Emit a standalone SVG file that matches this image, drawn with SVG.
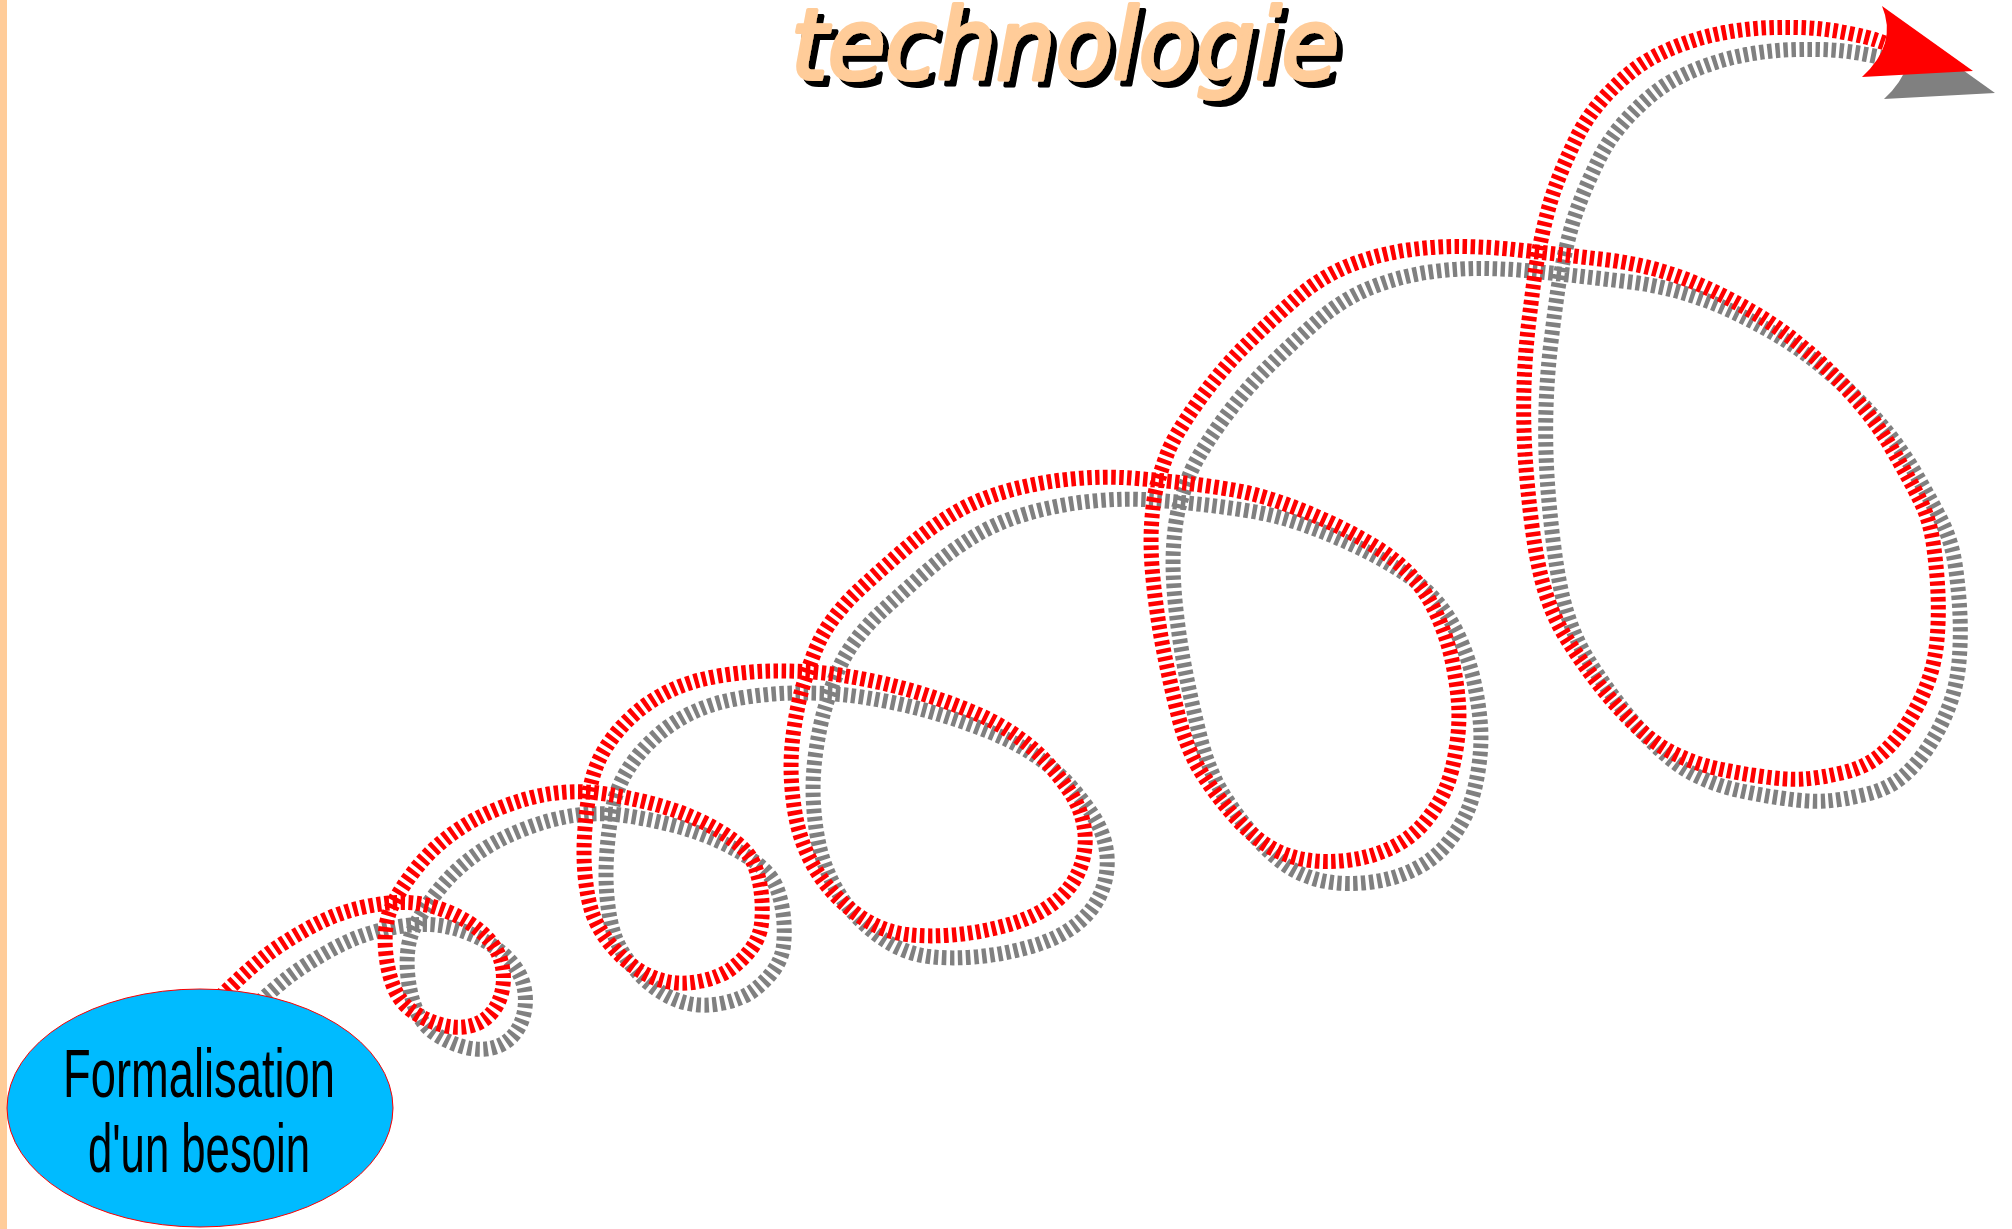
<svg xmlns="http://www.w3.org/2000/svg" width="2012" height="1229" viewBox="0 0 2012 1229">
<defs>
<style>
.trail{fill:none;stroke-width:15;stroke-dasharray:4.5 3.5;stroke-linejoin:round}
.red{stroke:#FF0000}
.grey{stroke:#808080}
.title{font-family:"DejaVu Sans",sans-serif;font-size:98px;font-style:italic;stroke-linejoin:round;stroke-width:4;fill:#FFCC99;stroke:#FFCC99}
.label{font-family:"Liberation Sans",Arial,sans-serif;font-size:68px;fill:#000000}
</style>
<filter id="shadow" x="-5%" y="-30%" width="115%" height="170%">
<feOffset in="SourceAlpha" dx="6" dy="6" result="off"/>
<feMerge><feMergeNode in="off"/><feMergeNode in="SourceGraphic"/></feMerge>
</filter>
<path id="spiral" d="M215,1002 L232.5,985 Q250,968 266,955.5 Q282,943 308,928.5 Q334,914 359.5,908 Q385,902 406,902.5 Q427,903 448.5,912 Q470,921 483.5,934 Q497,947 501,961 Q505,975 502.5,989 Q500,1003 491.5,1013 Q483,1023 470,1026 Q457,1029 442,1025 Q427,1021 413.5,1012 Q400,1003 393.5,986.5 Q387,970 385.5,950 Q384,930 388.5,915 Q393,900 410,876.5 Q427,853 448.5,836.5 Q470,820 498.5,808.5 Q527,797 552,793.5 Q577,790 602,793.5 Q627,797 652,803.5 Q677,810 698.5,820 Q720,830 735,841.5 Q750,853 755,866.5 Q760,880 761.5,895 Q763,910 761.5,923.5 Q760,937 751.5,948.5 Q743,960 731.5,968.5 Q720,977 701.5,981 Q683,985 666.5,981.5 Q650,978 635,967.5 Q620,957 608.5,942 Q597,927 592,912 Q587,897 585,875 Q583,853 585,828 Q587,803 591,784 Q595,765 605.5,748 Q616,731 633,715.5 Q650,700 671.5,690 Q693,680 721.5,675.5 Q750,671 777.5,671 Q805,671 824,673 Q843,675 868,680 Q893,685 918,692.5 Q943,700 968,710 Q993,720 1013,733.5 Q1033,747 1046.5,762 Q1060,777 1070,792 Q1080,807 1083.5,823.5 Q1087,840 1083.5,856.5 Q1080,873 1070,886.5 Q1060,900 1043.5,910 Q1027,920 1002,926.5 Q977,933 952,935 Q927,937 907,934.5 Q887,932 870,922.5 Q853,913 838,898 Q823,883 813,865 Q803,847 798,827 Q793,807 791.5,782 Q790,757 793.5,732 Q797,707 802,689.5 Q807,672 814,653.5 Q821,635 833,619 Q845,603 859,590 Q873,577 898.5,554.5 Q924,532 949.5,516 Q975,500 1007,491 Q1039,482 1071.5,479 Q1104,476 1130.5,478 Q1157,480 1180,482.5 Q1203,485 1228,489 Q1253,493 1278,501.5 Q1303,510 1328,521.5 Q1353,533 1375,546.5 Q1397,560 1412,576.5 Q1427,593 1437,615 Q1447,637 1452,660 Q1457,683 1458.5,703 Q1460,723 1456.5,746.5 Q1453,770 1446.5,786.5 Q1440,803 1426.5,820 Q1413,837 1393,847 Q1373,857 1350,860 Q1327,863 1307,860 Q1287,857 1270,847 Q1253,837 1235,817 Q1217,797 1202,773.5 Q1187,750 1178.5,716.5 Q1170,683 1163.5,650 Q1157,617 1153.5,583.5 Q1150,550 1151.5,525 Q1153,500 1157,485 Q1161,470 1167.5,453 Q1174,436 1196.5,404 Q1219,372 1244.5,346.5 Q1270,321 1296,298.5 Q1322,276 1350.5,265 Q1379,254 1408,250 Q1437,246 1463.5,246.5 Q1490,247 1514,249.5 Q1538,252 1560.5,254.5 Q1583,257 1608,260 Q1633,263 1658,270 Q1683,277 1708,288.5 Q1733,300 1758,315 Q1783,330 1808,351.5 Q1833,373 1855,398 Q1877,423 1893.5,451.5 Q1910,480 1920,500 Q1930,520 1933.5,545 Q1937,570 1938,593.5 Q1939,617 1937,640 Q1935,663 1927.5,683 Q1920,703 1908.5,721.5 Q1897,740 1882,753.5 Q1867,767 1843.5,772.5 Q1820,778 1803.5,779 Q1787,780 1762,776.5 Q1737,773 1715,768 Q1693,763 1673,753 Q1653,743 1633,723 Q1613,703 1596.5,681.5 Q1580,660 1566.5,638.5 Q1553,617 1545,591 Q1537,565 1532,526 Q1527,487 1525,453.5 Q1523,420 1524,386.5 Q1525,353 1529,320 Q1533,287 1535.5,270 Q1538,253 1544,226.5 Q1550,200 1558.5,178.5 Q1567,157 1577,137 Q1587,117 1602,100 Q1617,83 1633.5,70 Q1650,57 1675,47 Q1700,37 1725,32.5 Q1750,28 1775,27.5 Q1800,27 1816.5,28.5 Q1833,30 1850,33.5 Q1867,37 1876,40 L1885,43"/>
<path id="head" d="M1882,6 L1973,71 L1862,77 Q1898,44 1882,6 Z"/>
</defs>
<rect x="0" y="0" width="2012" height="1229" fill="#FFFFFF"/>
<rect x="0" y="0" width="7" height="1229" fill="#FFCC99"/>
<g id="title" filter="url(#shadow)">
<text class="title" x="791" y="79" textLength="548" lengthAdjust="spacingAndGlyphs">technologie</text>
</g>
<g id="connectors">
<g id="trail-shadow" transform="translate(22,22)">
<use href="#spiral" class="trail grey"/>
<use href="#head" fill="#808080"/>
</g>
<g id="trail-main">
<use href="#spiral" class="trail red"/>
<use href="#head" fill="#FF0000"/>
</g>
</g>
<g id="node-formalisation">
<ellipse cx="200" cy="1108" rx="193" ry="119" fill="#00BBFF" stroke="#FF0000" stroke-width="1"/>
<text class="label" x="63" y="1097" textLength="272" lengthAdjust="spacingAndGlyphs">Formalisation</text>
<text class="label" x="88" y="1172" textLength="222" lengthAdjust="spacingAndGlyphs">d'un besoin</text>
</g>
</svg>
